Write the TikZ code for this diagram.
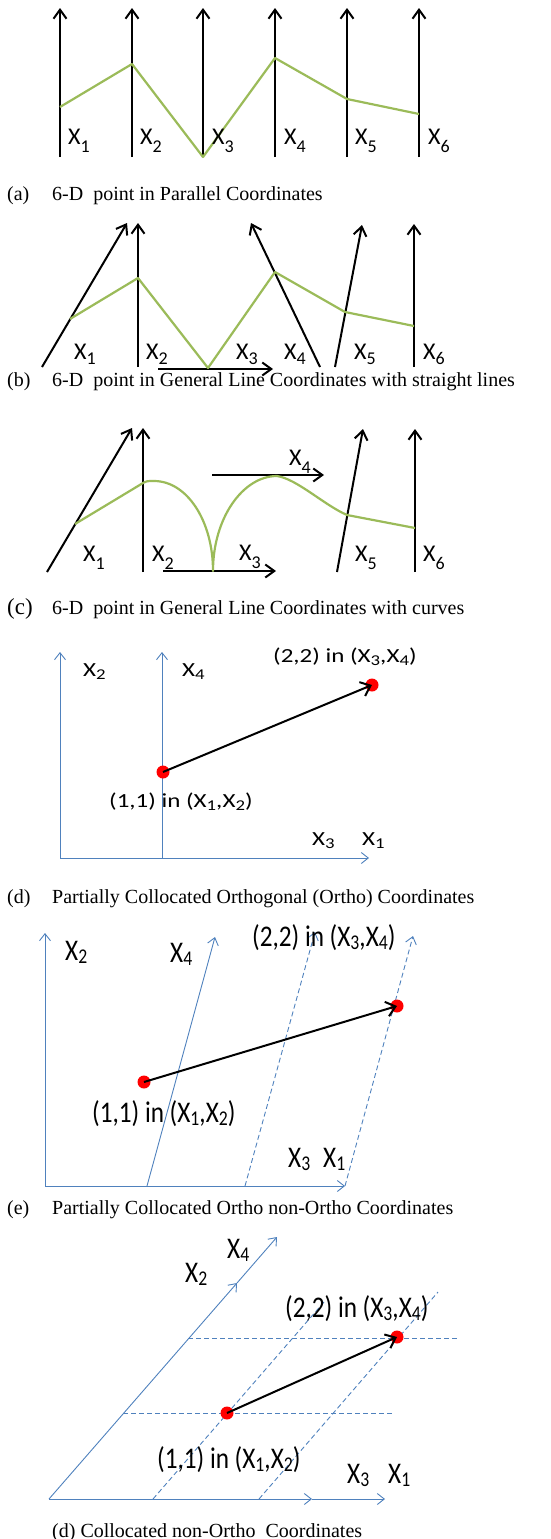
\documentclass[tikz,border=0pt]{standalone}
\usepackage{fontspec}
\setmainfont{Liberation Serif}
\newfontfamily\labfont{Carlito}
\newfontfamily\labfontw[FakeStretch=1.25]{Carlito}
\newfontfamily\labfontn[FakeStretch=0.84]{Carlito}
\usetikzlibrary{arrows.meta}
\definecolor{pgreen}{RGB}{155,187,89}
\definecolor{pblue}{RGB}{79,129,189}
\definecolor{pred}{RGB}{255,0,0}
\def\sblow{8pt}\def\sbsz{18}
\newcommand\sbs[1]{\raisebox{-\sblow}{\fontsize{\sbsz}{\sbsz}\selectfont #1}}
\tikzset{
  ax/.style={line width=2pt,-{Straight Barb[length=9pt,width=13pt]}},
  bax/.style={pblue,line width=0.9pt,-{Straight Barb[length=7pt,width=11pt]}},
  bdash/.style={bax,dash pattern=on 5pt off 3pt},
  hdash/.style={pblue,line width=0.9pt,dash pattern=on 5pt off 3pt},
  gline/.style={pgreen,line width=2.2pt,line join=round},
  parrow/.style={line width=2pt,-{Straight Barb[length=9pt,width=15pt]}},
  rdot/.style={circle,fill=pred,inner sep=0pt,minimum size=13pt},
  lbl/.style={font=\labfont\fontsize{24}{28}\selectfont\def\sblow{8pt}\def\sbsz{18},inner sep=0pt,anchor=base west},
  lblb/.style={lbl,font=\labfont\fontsize{24}{28}\selectfont\def\sblow{5pt}\def\sbsz{18}},
  lbld/.style={lbl,font=\labfontw\fontsize{20}{24}\selectfont\def\sblow{3pt}\def\sbsz{15}},
  lble/.style={lbl,font=\labfontn\fontsize{30}{34}\selectfont\def\sblow{3.5pt}\def\sbsz{21}},
  captxt/.style={font=\fontsize{20}{24}\selectfont,inner sep=0pt,anchor=base west},
}
\begin{document}
\begin{tikzpicture}[x=1pt,y=-1pt]
\useasboundingbox (0,0) rectangle (551,1539);
% ---------------- (a)
\foreach \i/\x in {1/60,2/132,3/203,4/275,5/347,6/419}{
  \coordinate (a\i b) at (\x,157);
  \coordinate (a\i t) at (\x,8);
  \draw[ax] (a\i b) -- (a\i t);
}
\coordinate (pa1) at (60,107);
\coordinate (pa2) at (132,64);
\coordinate (pa3) at (203,157);
\coordinate (pa4) at (275,58);
\coordinate (pa5) at (347,99);
\coordinate (pa6) at (419,114);
\draw[gline] (pa1) -- (pa2) -- (pa3) -- (pa4) -- (pa5) -- (pa6);
\foreach \i/\x in {1/68,2/140,3/212,4/284,5/355,6/428}{
  \node[lbl] (la\i) at (\x,144) {X\sbs{\i}};
}
\node[captxt] (capa1) at (7,200) {(a)};
\node[captxt] (capa2) at (52,200) {6-D\ \ point in Parallel Coordinates};
% ---------------- (b)
\coordinate (b1b) at (42,367);  \coordinate (b1t) at (127,223);
\coordinate (b2b) at (138,367); \coordinate (b2t) at (138,223);
\coordinate (b3b) at (158,369); \coordinate (b3t) at (273,369);
\coordinate (b4b) at (320,367); \coordinate (b4t) at (251,223);
\coordinate (b5b) at (335,367); \coordinate (b5t) at (362,225);
\coordinate (b6b) at (414,367); \coordinate (b6t) at (414,224);
\foreach \i in {1,...,6}{\draw[ax] (b\i b) -- (b\i t);}
\coordinate (pb1) at (70,319);
\coordinate (pb2) at (138,278);
\coordinate (pb3) at (208,368);
\coordinate (pb4) at (275,272);
\coordinate (pb5) at (345,312);
\coordinate (pb6) at (414,326);
\draw[gline] (pb1) -- (pb2) -- (pb3) -- (pb4) -- (pb5) -- (pb6);
\foreach \i/\x in {1/74,2/146,3/236,4/284,5/354,6/423}{
  \node[lblb] (lb\i) at (\x,359) {X\sbs{\i}};
}
\node[captxt] (capb1) at (7,386) {(b)};
\node[captxt] (capb2) at (52,386) {6-D\ \ point in General Line Coordinates with straight lines};
% ---------------- (c)
\coordinate (c1b) at (47,572);  \coordinate (c1t) at (132,428);
\coordinate (c2b) at (143,572); \coordinate (c2t) at (143,428);
\coordinate (c3b) at (163,571); \coordinate (c3t) at (276,571);
\coordinate (c4b) at (212,475); \coordinate (c4t) at (324,475);
\coordinate (c5b) at (337,572); \coordinate (c5t) at (363,429);
\coordinate (c6b) at (415,572); \coordinate (c6t) at (415,429);
\foreach \i in {1,...,6}{\draw[ax] (c\i b) -- (c\i t);}
\coordinate (pc1) at (75,524);
\coordinate (pc2) at (143,483);
\coordinate (pc2p) at (154,481);
\coordinate (pc3) at (213,571);
\coordinate (pc4) at (277,476);
\coordinate (pc5) at (347,515);
\coordinate (pc6) at (415,528);
\draw[gline] (pc1) -- (pc2) .. controls (147,481) .. (pc2p)
  .. controls (187,481) and (213,521) .. (pc3)
  .. controls (213,518) and (243,476) .. (pc4)
  .. controls (297,479) and (324,505) .. (pc5) -- (pc6);
\node[lbl] (lc1) at (83,561) {X\sbs{1}};
\node[lbl] (lc2) at (152,561) {X\sbs{2}};
\node[lbl] (lc3) at (239,560) {X\sbs{3}};
\node[lbl] (lc4) at (289,465) {X\sbs{4}};
\node[lbl] (lc5) at (355,561) {X\sbs{5}};
\node[lbl] (lc6) at (423,561) {X\sbs{6}};
\node[captxt,font=\fontsize{23}{26}\selectfont] (capc1) at (7,614) {(c)};
\node[captxt] (capc2) at (52,614) {6-D\ \ point in General Line Coordinates with curves};
% ---------------- (d)
\coordinate (d0) at (60,858);
\coordinate (d2t) at (60,652);
\coordinate (d4b) at (162,858);
\coordinate (d4t) at (162,652);
\coordinate (d1t) at (369,858);
\draw[bax] (d0) -- (d2t);
\draw[bax] (d4b) -- (d4t);
\draw[bax] (d0) -- (d1t);
\node[rdot] (d22) at (372,685) {};
\node[rdot] (d11) at (163,772) {};
\draw[parrow] (d11.center) -- (d22.center);
\node[lbld] (ld2) at (83,676) {X\sbs{2}};
\node[lbld] (ld4) at (182,676) {X\sbs{4}};
\node[lbld] (ld22) at (273,662) {(2,2) in (X\sbs{3},X\sbs{4})};
\node[lbld] (ld11) at (109,807) {(1,1) in (X\sbs{1},X\sbs{2})};
\node[lbld] (ld3) at (312,845) {X\sbs{3}};
\node[lbld] (ld1) at (362,845) {X\sbs{1}};
\node[captxt] (capd1) at (7,903) {(d)};
\node[captxt] (capd2) at (52,903) {Partially Collocated Orthogonal (Ortho) Coordinates};
% ---------------- (e)
\coordinate (e0) at (45,1186);
\coordinate (e2t) at (45,933);
\coordinate (e1t) at (345,1186);
\coordinate (e4b) at (147,1186);
\coordinate (e4t) at (215,937);
\coordinate (e3b) at (245,1186);
\coordinate (e3t) at (315,932);
\coordinate (e5b) at (345,1186);
\coordinate (e5t) at (413,936);
\draw[bax] (e0) -- (e2t);
\draw[bax] (e0) -- (e1t);
\draw[bax] (e4b) -- (e4t);
\draw[bdash] (e3b) -- (e3t);
\draw[bdash] (e5b) -- (e5t);
\node[rdot] (e22) at (397,1006) {};
\node[rdot] (e11) at (144,1082) {};
\draw[parrow] (e11.center) -- (e22.center);
\node[lble] (le2) at (65,960) {X\sbs{2}};
\node[lble] (le4) at (170,962) {X\sbs{4}};
\node[lble] (le22) at (252,946) {(2,2) in (X\sbs{3},X\sbs{4})};
\node[lble] (le11) at (92,1122) {(1,1) in (X\sbs{1},X\sbs{2})};
\node[lble] (le3) at (288,1167) {X\sbs{3}};
\node[lble] (le1) at (323,1167) {X\sbs{1}};
\node[captxt] (cape1) at (7,1214) {(e)};
\node[captxt] (cape2) at (52,1214) {Partially Collocated Ortho non-Ortho Coordinates};
% ---------------- (f)
\coordinate (f0) at (49,1499);
\coordinate (f3t) at (312,1499);
\coordinate (f1t) at (385,1499);
\coordinate (f2t) at (237,1283);
\coordinate (f4t) at (277,1237);
\draw[bax] (f0) -- (f3t);
\draw[bax] (f3t) -- (f1t);
\draw[bax] (f0) -- (f2t);
\draw[bax] (f2t) -- (f4t);
\coordinate (fh1a) at (188,1338); \coordinate (fh1b) at (457,1338);
\coordinate (fh2a) at (123,1413); \coordinate (fh2b) at (392,1413);
\coordinate (fs1a) at (153,1499); \coordinate (fs1b) at (324,1302);
\coordinate (fs2a) at (259,1499); \coordinate (fs2b) at (438,1292);
\draw[hdash] (fh1a) -- (fh1b);
\draw[hdash] (fh2a) -- (fh2b);
\draw[hdash] (fs1a) -- (fs1b);
\draw[hdash] (fs2a) -- (fs2b);
\node[rdot] (f22) at (397,1337) {};
\node[rdot] (f11) at (227,1413) {};
\draw[parrow] (f11.center) -- (f22.center);
\node[lble] (lf4) at (227,1258) {X\sbs{4}};
\node[lble] (lf2) at (185,1282) {X\sbs{2}};
\node[lble] (lf22) at (285,1317) {(2,2) in (X\sbs{3},X\sbs{4})};
\node[lble] (lf11) at (157,1468) {(1,1) in (X\sbs{1},X\sbs{2})};
\node[lble] (lf3) at (347,1483) {X\sbs{3}};
\node[lble] (lf1) at (388,1483) {X\sbs{1}};
\node[captxt] (capf) at (52,1537) {(d) Collocated non-Ortho\ \ Coordinates};
\end{tikzpicture}
\end{document}
